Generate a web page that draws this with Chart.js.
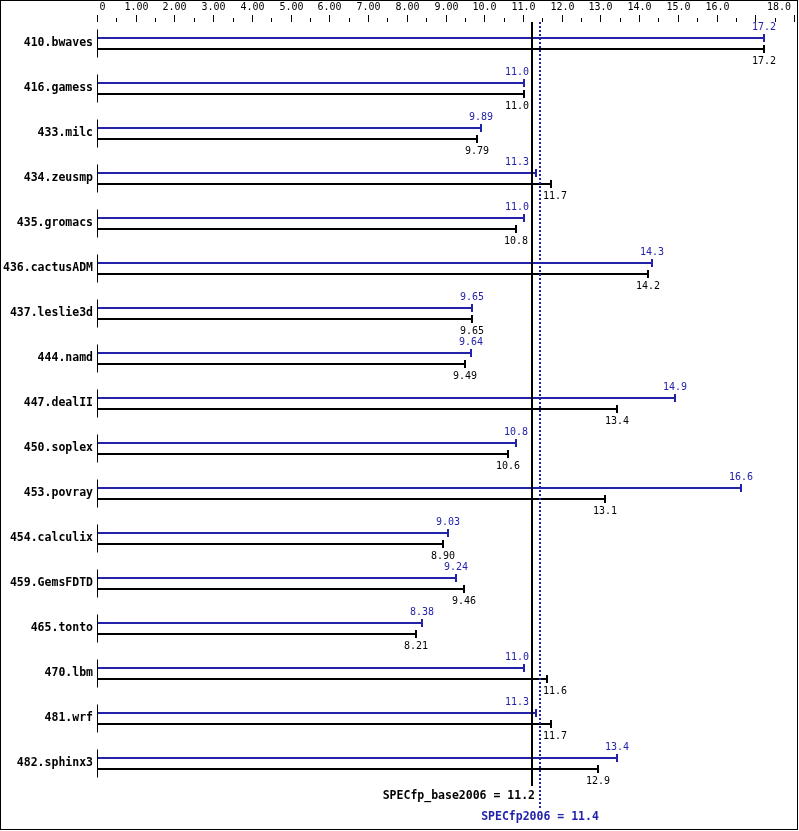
<!DOCTYPE html>
<html>
<head>
<meta charset="utf-8">
<script src="https://cdn.jsdelivr.net/npm/chart.js@4/dist/chart.umd.min.js"></script>
<style>
  html, body { margin: 0; padding: 0; background: #fff; }
  canvas { display: block; }
</style>
</head>
<body>
<canvas id="spec" width="799" height="831"></canvas>
<script>
// benchmarks, top to bottom
var benchmarks = ['410.bwaves', '416.gamess', '433.milc', '434.zeusmp', '435.gromacs',
    '436.cactusADM', '437.leslie3d', '444.namd', '447.dealII', '450.soplex', '453.povray',
    '454.calculix', '459.GemsFDTD', '465.tonto', '470.lbm', '481.wrf', '482.sphinx3'];
// peak ratios (blue) and base ratios (black)
var peak = [17.2, 11.0, 9.89, 11.3, 11.0, 14.3, 9.65, 9.64, 14.9, 10.8, 16.6, 9.03, 9.24, 8.38, 11.0, 11.3, 13.4];
var base = [17.2, 11.0, 9.79, 11.7, 10.8, 14.2, 9.65, 9.49, 13.4, 10.6, 13.1, 8.90, 9.46, 8.21, 11.6, 11.7, 12.9];
// top axis
var tickValues = [0, 1, 2, 3, 4, 5, 6, 7, 8, 9, 10, 11, 12, 13, 14, 15, 16, 17, 18];
var tickLabels = ['0', '1.00', '2.00', '3.00', '4.00', '5.00', '6.00', '7.00', '8.00', '9.00',
    '10.0', '11.0', '12.0', '13.0', '14.0', '15.0', '16.0', '', '18.0'];
// overall scores
var baseScore = 11.2;
var peakScore = 11.4;

var BLUE = '#2222aa';
var BLACK = '#000000';
var MONO = '"DejaVu Sans Mono", "Liberation Mono", monospace';

function fmt(v) {
    return v.toPrecision(3);
}

var specDecor = {
    id: 'specDecor',
    afterDraw: function(chart) {
        var ctx = chart.ctx;
        var xs = chart.scales.x;
        var ys = chart.scales.y;
        var area = chart.chartArea;
        ctx.save();

        // frame
        ctx.strokeStyle = BLACK;
        ctx.lineWidth = 1;
        ctx.strokeRect(0.5, 0.5, 797, 829);

        // top axis ticks and labels
        ctx.font = '10px ' + MONO;
        ctx.fillStyle = BLACK;
        ctx.textBaseline = 'middle';
        for (var i = 0; i < tickValues.length; i++) {
            var tx = Math.round(xs.getPixelForValue(tickValues[i])) - 0.5;
            ctx.beginPath();
            ctx.moveTo(tx, 15);
            ctx.lineTo(tx, 22);
            ctx.stroke();
            if (i < tickValues.length - 1) {
                var hx = Math.round(xs.getPixelForValue(tickValues[i] + 0.5)) - 0.5;
                ctx.beginPath();
                ctx.moveTo(hx, 18);
                ctx.lineTo(hx, 22);
                ctx.stroke();
            }
            var lab = tickLabels[i];
            if (!lab) continue;
            var w = ctx.measureText(lab).width;
            var lx = tx - w / 2;
            if (i === 0) lx = tx + 2;
            if (lx + w > 791) lx = 791 - w;
            ctx.textAlign = 'left';
            ctx.fillText(lab, lx, 7);
        }

        // category labels and left stubs
        ctx.font = 'bold 11.5px ' + MONO;
        ctx.textAlign = 'right';
        for (var c = 0; c < benchmarks.length; c++) {
            var cy = ys.getPixelForValue(c);
            ctx.fillStyle = BLACK;
            ctx.fillText(benchmarks[c], 93, cy);
            ctx.beginPath();
            ctx.moveTo(area.left - 0.5, cy - 14);
            ctx.lineTo(area.left - 0.5, cy + 14);
            ctx.stroke();
        }

        // score line positions, value labels keep clear of them
        var bx0 = Math.round(xs.getPixelForValue(baseScore));
        var px0 = Math.round(xs.getPixelForValue(peakScore)) + 1;
        var clearL = bx0 - 3, clearR = px0 + 3;

        // end caps and value labels
        ctx.font = '10px ' + MONO;
        ctx.textAlign = 'left';
        chart.data.datasets.forEach(function(ds, di) {
            var meta = chart.getDatasetMeta(di);
            meta.data.forEach(function(bar, j) {
                var bx = Math.round(bar.x);
                ctx.fillStyle = ds.backgroundColor;
                ctx.fillRect(bx - 1, bar.y - 4, 2, 8);
                var txt = fmt(ds.data[j]);
                var w = ctx.measureText(txt).width;
                var lx = bx - w / 2;
                if (lx + w > clearL && lx < clearR) {
                    lx = bx < px0 ? clearL - w : clearR;
                }
                var ly = di === 0 ? bar.y - 11 : bar.y + 12;
                ctx.fillText(txt, lx, ly);
            });
        });

        // overall score lines
        ctx.fillStyle = BLACK;
        ctx.fillRect(bx0 - 1, 22, 2, 764);
        ctx.strokeStyle = BLUE;
        ctx.lineWidth = 2;
        ctx.setLineDash([2, 2]);
        ctx.beginPath();
        ctx.moveTo(px0, 22);
        ctx.lineTo(px0, 808);
        ctx.stroke();
        ctx.setLineDash([]);

        ctx.font = 'bold 11.5px ' + MONO;
        ctx.textAlign = 'right';
        ctx.fillStyle = BLACK;
        ctx.fillText('SPECfp_base2006 = ' + fmt(baseScore), bx0 + 3, 796);
        ctx.textAlign = 'center';
        ctx.fillStyle = BLUE;
        ctx.fillText('SPECfp2006 = ' + fmt(peakScore), px0, 817);

        ctx.restore();
    }
};

var chart = new Chart(document.getElementById('spec'), {
    type: 'bar',
    data: {
        labels: benchmarks,
        datasets: [
            { label: 'peak', data: peak, backgroundColor: BLUE, borderWidth: 0 },
            { label: 'base', data: base, backgroundColor: BLACK, borderWidth: 0 }
        ]
    },
    options: {
        indexAxis: 'y',
        responsive: false,
        devicePixelRatio: 1,
        animation: false,
        categoryPercentage: 22 / 45,
        barPercentage: 2 / 11,
        layout: { padding: { left: 98, right: 4, top: 21, bottom: 45 } },
        scales: {
            x: { type: 'linear', min: 0, max: 18, display: false },
            y: { type: 'category', display: false, offset: true }
        },
        plugins: {
            legend: { display: false },
            tooltip: { enabled: false }
        }
    },
    plugins: [specDecor]
});
</script>
</body>
</html>
